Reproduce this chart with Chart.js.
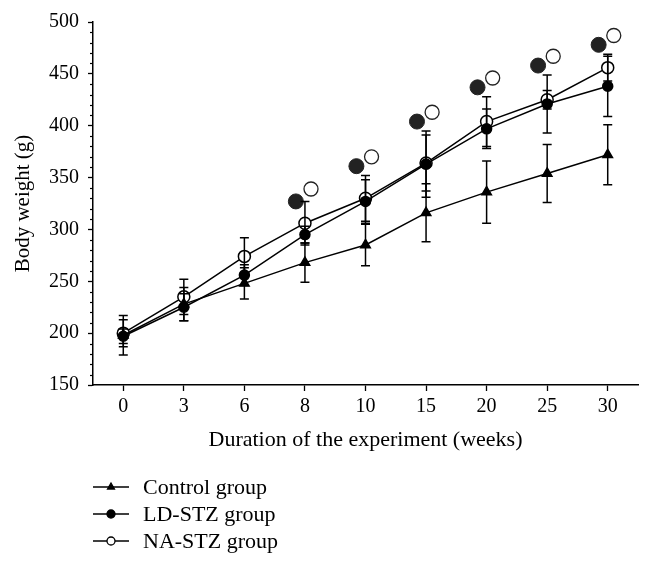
<!DOCTYPE html>
<html>
<head>
<meta charset="utf-8">
<script src="https://cdn.jsdelivr.net/npm/chart.js@4/dist/chart.umd.min.js"></script>
<style>
html, body { margin: 0; padding: 0; background: #fff; }
#wrap { width: 653px; height: 566px; }
</style>
</head>
<body>
<div id="wrap"><canvas id="c" width="653" height="566"></canvas></div>
<script>
// weeks on the x axis
var weeks = ['0', '3', '6', '8', '10', '15', '20', '25', '30'];

// body weight (g), mean and error
var control    = [198, 228, 248, 268, 285, 316, 336, 354, 372];
var controlErr = [19, 16, 15, 19, 20, 28, 30, 28, 29];
var ldStz      = [197, 225, 256, 295, 327, 363, 397, 421, 438];
var ldStzErr   = [7, 13, 10, 8, 21, 32, 19, 28, 29];
var naStz      = [200, 235, 274, 306, 330, 364, 404, 425, 456];
var naStzErr   = [13, 17, 18, 21, 22, 27, 24, 9, 13];

// significance markers above the points
var sigWeeks = ['8', '10', '15', '20', '25', '30'];
var sigLd    = [327, 361, 404, 437, 458, 478];
var sigNa    = [339, 370, 413, 446, 467, 487];

var yTicks = [150, 200, 250, 300, 350, 400, 450, 500];

var serif = "'Liberation Serif', 'DejaVu Serif', serif";

function pts(arr) {
	return arr.map(function(v, i) { return {x: i, y: v}; });
}
function sigPts(arr, shift) {
	return arr.map(function(v, i) { return {x: weeks.indexOf(sigWeeks[i]) + shift, y: v}; });
}

var errorBars = {
	id: 'errorBars',
	afterDatasetsDraw: function(chart) {
		var ctx = chart.ctx, xs = chart.scales.x, ys = chart.scales.y;
		ctx.save();
		ctx.strokeStyle = '#000';
		ctx.lineWidth = 1.5;
		chart.data.datasets.forEach(function(ds) {
			if (!ds.errors) return;
			ds.data.forEach(function(p, i) {
				var e = ds.errors[i];
				var x = xs.getPixelForValue(p.x);
				var y1 = ys.getPixelForValue(p.y + e), y2 = ys.getPixelForValue(p.y - e);
				ctx.beginPath();
				ctx.moveTo(x, y1); ctx.lineTo(x, y2);
				ctx.moveTo(x - 4.5, y1); ctx.lineTo(x + 4.5, y1);
				ctx.moveTo(x - 4.5, y2); ctx.lineTo(x + 4.5, y2);
				ctx.stroke();
			});
		});
		ctx.restore();
	}
};

var minorTicks = {
	id: 'minorTicks',
	afterDraw: function(chart) {
		var ctx = chart.ctx, ys = chart.scales.y, left = chart.chartArea.left;
		ctx.save();
		ctx.strokeStyle = '#000';
		ctx.lineWidth = 1.2;
		for (var v = 150; v <= 500; v += 10) {
			if (v % 50 === 0) continue;
			var y = Math.round(ys.getPixelForValue(v)) + 0.5;
			ctx.beginPath();
			ctx.moveTo(left - 3, y); ctx.lineTo(left, y);
			ctx.stroke();
		}
		ctx.restore();
	}
};

var bottomLegend = {
	id: 'bottomLegend',
	afterDraw: function(chart) {
		var ctx = chart.ctx;
		ctx.save();
		ctx.font = '22px ' + serif;
		ctx.textBaseline = 'middle';
		chart.data.datasets.slice(0, 3).forEach(function(ds, i) {
			var y = 487 + i * 27;
			ctx.strokeStyle = '#000';
			ctx.lineWidth = 1.5;
			ctx.beginPath();
			ctx.moveTo(93, y); ctx.lineTo(129, y);
			ctx.stroke();
			ctx.fillStyle = ds.pointBackgroundColor;
			ctx.lineWidth = 1.3;
			Chart.helpers.drawPoint(ctx, {pointStyle: ds.pointStyle, radius: 4, borderWidth: 1.3}, 111, y);
			ctx.fillStyle = '#000';
			ctx.fillText(ds.label, 143, y + 1);
		});
		ctx.restore();
	}
};

new Chart(document.getElementById('c'), {
	type: 'line',
	data: {
		datasets: [
			{label: 'Control group', data: pts(control), errors: controlErr,
				borderColor: '#000', borderWidth: 1.5, pointStyle: 'triangle', pointRadius: 5.5,
				pointBackgroundColor: '#000', pointBorderColor: '#000'},
			{label: 'LD-STZ group', data: pts(ldStz), errors: ldStzErr,
				borderColor: '#000', borderWidth: 1.5, pointStyle: 'circle', pointRadius: 5,
				pointBackgroundColor: '#000', pointBorderColor: '#000'},
			{label: 'NA-STZ group', data: pts(naStz), errors: naStzErr,
				borderColor: '#000', borderWidth: 1.5, pointStyle: 'circle', pointRadius: 6,
				pointBackgroundColor: '#fff', pointBorderColor: '#000', pointBorderWidth: 1.5},
			{label: 'sig LD', data: sigPts(sigLd, -0.15), showLine: false,
				pointRadius: 7.5, pointBackgroundColor: '#222', pointBorderColor: '#222', pointBorderWidth: 1},
			{label: 'sig NA', data: sigPts(sigNa, 0.1), showLine: false,
				pointRadius: 7, pointBackgroundColor: '#fff', pointBorderColor: '#222', pointBorderWidth: 1.3}
		]
	},
	options: {
		responsive: false,
		animation: false,
		layout: {padding: {top: 22, right: 15, bottom: 96, left: 0}},
		plugins: {legend: {display: false}, tooltip: {enabled: false}},
		scales: {
			x: {
				type: 'linear', min: -0.5, max: 8.5,
				afterFit: function(s) { s.height = 85; },
				afterBuildTicks: function(s) { s.ticks = weeks.map(function(w, i) { return {value: i}; }); },
				ticks: {padding: 4, color: '#000', font: {family: serif, size: 20},
					callback: function(v) { return weeks[v] !== undefined ? weeks[v] : ''; }},
				grid: {drawOnChartArea: false, tickLength: 6, color: '#000', tickWidth: 1.3},
				border: {color: '#000', width: 1.5},
				title: {display: true, text: 'Duration of the experiment (weeks)', color: '#000',
					font: {family: serif, size: 22}, padding: {top: 0, bottom: 17}}
			},
			y: {
				min: 150, max: 500,
				afterFit: function(s) { s.width = 93; },
				afterBuildTicks: function(s) { s.ticks = yTicks.map(function(v) { return {value: v}; }); },
				ticks: {padding: 9, color: '#000', font: {family: serif, size: 20}},
				grid: {drawOnChartArea: false, tickLength: 5, color: '#000', tickWidth: 1.3},
				border: {color: '#000', width: 1.5},
				title: {display: true, text: 'Body weight (g)', color: '#000',
					font: {family: serif, size: 21}, padding: {top: 11, bottom: 0}}
			}
		}
	},
	plugins: [errorBars, minorTicks, bottomLegend]
});
</script>
</body>
</html>
